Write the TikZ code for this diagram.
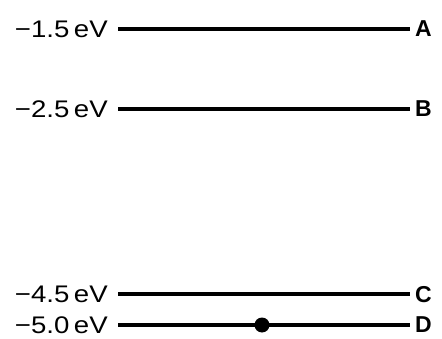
\documentclass[tikz,border=0pt]{standalone}
\usepackage{fontspec}
\setmainfont{Liberation Sans}
\begin{document}
\begin{tikzpicture}[x=1pt,y=1pt,
  lvl/.style={line width=3.2pt},
  elab/.style={anchor=east,inner sep=0pt,text depth=0pt,font=\fontsize{24}{24}\selectfont,xscale=1.15,transform shape},
  llab/.style={anchor=west,inner sep=0pt,text depth=0pt,font=\fontsize{23}{23}\selectfont\bfseries},
  dotst/.style={circle,fill=black,inner sep=0pt,minimum size=15pt}]
\useasboundingbox (0,0) rectangle (442,338);
\coordinate (a1) at (118,309); \coordinate (a2) at (410,309);
\coordinate (b1) at (118,229); \coordinate (b2) at (410,229);
\coordinate (c1) at (118,44);  \coordinate (c2) at (410,44);
\coordinate (d1) at (118,13);  \coordinate (d2) at (410,13);
\draw[lvl] (a1) -- (a2);
\draw[lvl] (b1) -- (b2);
\draw[lvl] (c1) -- (c2);
\draw[lvl] (d1) -- (d2);
\node[elab] (ta) at ([xshift=-10pt]a1) {−1.5\,eV};
\node[elab] (tb) at ([xshift=-10pt]b1) {−2.5\,eV};
\node[elab] (tc) at ([xshift=-10pt]c1) {−4.5\,eV};
\node[elab] (td) at ([xshift=-10pt]d1) {−5.0\,eV};
\node[llab] (la) at ([xshift=5pt]a2) {A};
\node[llab] (lb) at ([xshift=5pt]b2) {B};
\node[llab] (lc) at ([xshift=5pt]c2) {C};
\node[llab] (ld) at ([xshift=5pt]d2) {D};
\node[dotst] (dot) at (262,13) {};
\end{tikzpicture}
\end{document}
